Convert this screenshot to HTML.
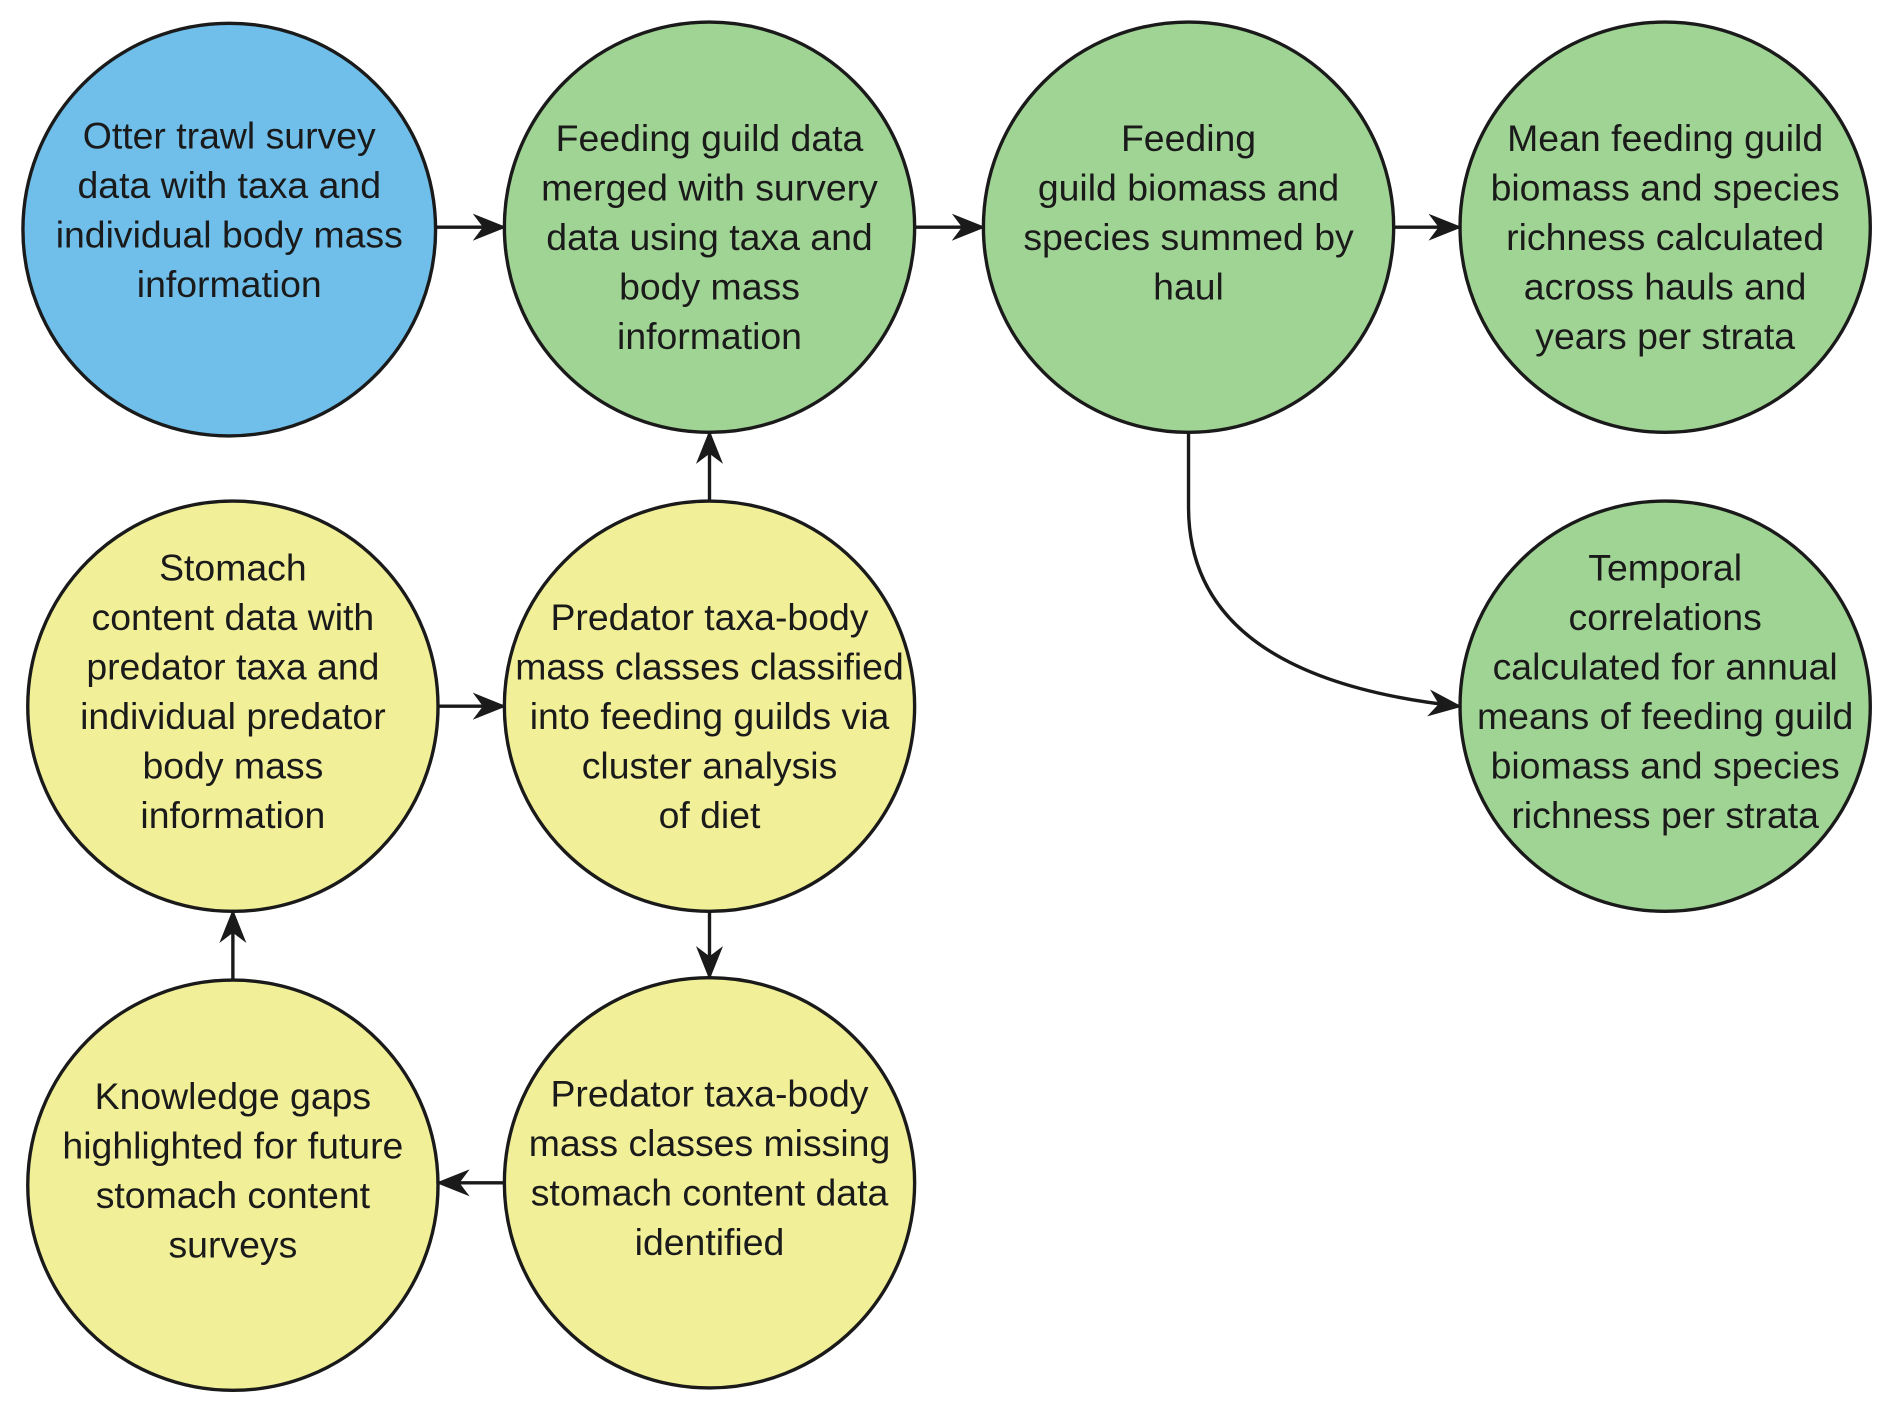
<!DOCTYPE html>
<html><head><meta charset="utf-8"><style>
html,body{margin:0;padding:0;background:#fff;width:1892px;height:1410px;overflow:hidden}
svg{display:block}
text{font-family:"Liberation Sans",sans-serif;font-size:31px;fill:#1a1a1a;text-anchor:middle;dominant-baseline:central}
</style></head><body>
<svg width="1892" height="1410" viewBox="0 0 1568 1168" xmlns="http://www.w3.org/2000/svg">
<defs>
<marker id="b" viewBox="0 0 10 10" refX="9" refY="5" markerWidth="28" markerHeight="28" markerUnits="userSpaceOnUse" orient="auto"><path d="M0,1 L10,5 L0,9 L3,5 z" fill="#1a1a1a"/></marker></defs>
<g stroke="#1a1a1a" stroke-width="2.8">
<circle cx="190" cy="190" r="171" fill="#6fbfea"/>
<circle cx="588" cy="188" r="170" fill="#a0d494"/>
<circle cx="985" cy="188" r="170" fill="#a0d494"/>
<circle cx="1380" cy="188" r="170" fill="#a0d494"/>
<circle cx="193" cy="585" r="170" fill="#f1ef98"/>
<circle cx="588" cy="585" r="170" fill="#f1ef98"/>
<circle cx="1380" cy="585" r="170" fill="#a0d494"/>
<circle cx="193" cy="982" r="170" fill="#f1ef98"/>
<circle cx="588" cy="980" r="170" fill="#f1ef98"/>
</g>
<g stroke="#1a1a1a" stroke-width="2.8" fill="none" marker-end="url(#b)">
<line x1="362" y1="188" x2="417" y2="188"/>
<line x1="758" y1="188" x2="814" y2="188"/>
<line x1="1155" y1="188" x2="1209" y2="188"/>
<line x1="363" y1="585" x2="417" y2="585"/>
<line x1="588" y1="415" x2="588" y2="359"/>
<line x1="588" y1="755" x2="588" y2="809"/>
<line x1="418" y1="980" x2="364" y2="980"/>
<line x1="193" y1="812" x2="193" y2="756"/>
<path d="M985,358 L985,420 C985,520 1070,570 1209,585"/>
</g>
<text x="190" y="112">Otter trawl survey</text><text x="190" y="153">data with taxa and</text><text x="190" y="194">individual body mass</text><text x="190" y="235">information</text>
<text x="588" y="114">Feeding guild data</text><text x="588" y="155">merged with survery</text><text x="588" y="196">data using taxa and</text><text x="588" y="237">body mass</text><text x="588" y="278">information</text>
<text x="985" y="114">Feeding</text><text x="985" y="155">guild biomass and</text><text x="985" y="196">species summed by</text><text x="985" y="237">haul</text>
<text x="1380" y="114">Mean feeding guild</text><text x="1380" y="155">biomass and species</text><text x="1380" y="196">richness calculated</text><text x="1380" y="237">across hauls and</text><text x="1380" y="278">years per strata</text>
<text x="193" y="470">Stomach</text><text x="193" y="511">content data with</text><text x="193" y="552">predator taxa and</text><text x="193" y="593">individual predator</text><text x="193" y="634">body mass</text><text x="193" y="675">information</text>
<text x="588" y="511">Predator taxa-body</text><text x="588" y="552">mass classes classified</text><text x="588" y="593">into feeding guilds via</text><text x="588" y="634">cluster analysis</text><text x="588" y="675">of diet</text>
<text x="1380" y="470">Temporal</text><text x="1380" y="511">correlations</text><text x="1380" y="552">calculated for annual</text><text x="1380" y="593">means of feeding guild</text><text x="1380" y="634">biomass and species</text><text x="1380" y="675">richness per strata</text>
<text x="193" y="908">Knowledge gaps</text><text x="193" y="949">highlighted for future</text><text x="193" y="990">stomach content</text><text x="193" y="1031">surveys</text>
<text x="588" y="906">Predator taxa-body</text><text x="588" y="947">mass classes missing</text><text x="588" y="988">stomach content data</text><text x="588" y="1029">identified</text>
</svg>
</body></html>
